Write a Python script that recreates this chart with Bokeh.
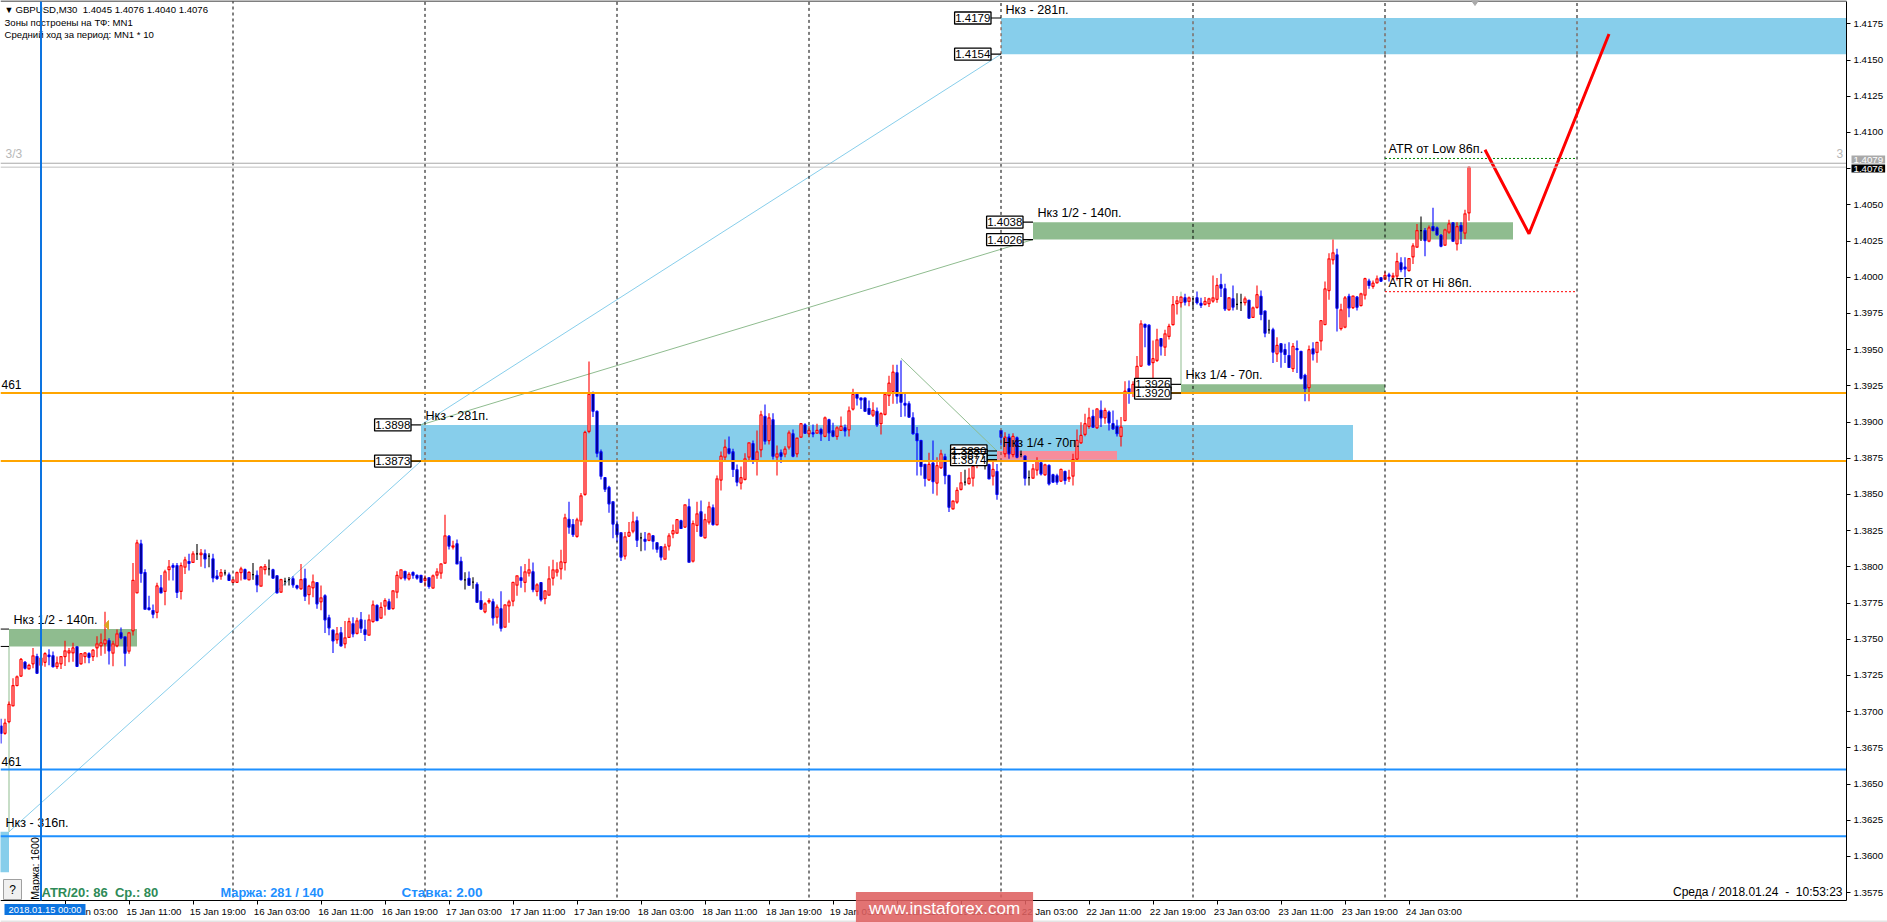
from math import pi
from bokeh.embed import file_html
from bokeh.resources import INLINE
from bokeh.plotting import figure
from bokeh.models import (ColumnDataSource, FixedTicker, Label, NumeralTickFormatter, Range1d)

# ---------------- data ----------------
OPEN = [
1.3690,1.3685,1.3693,1.3704,1.3718,1.37245,1.3734,1.37295,1.3733,1.3738,
1.3732,1.3734,1.3739,1.37385,1.3731,1.3733,1.3738,1.37405,1.37405,1.37447,
1.3733,1.3738,1.3740,1.3738,1.3744,1.37454,1.37468,1.3749,1.37403,1.37454,
1.37544,1.37516,1.37417,1.37558,1.3782,1.38158,1.3796,1.37716,1.37698,1.37686,
1.37854,1.3783,1.3798,1.38008,1.38008,1.3783,1.37997,1.38036,1.3803,1.3809,
1.38084,1.3809,1.38073,1.38054,1.37935,1.37935,1.37958,1.37944,1.37893,1.37893,
1.3796,1.3798,1.3791,1.37946,1.3794,1.37866,1.3798,1.37986,1.37979,1.37938,
1.37825,1.37899,1.37912,1.37917,1.37869,1.37848,1.37917,1.37807,1.37855,1.3789,
1.37758,1.3780,1.37648,1.37562,1.37496,1.37544,1.37468,1.37512,1.37606,1.3754,
1.37634,1.37565,1.37528,1.37622,1.37733,1.37645,1.37728,1.37758,1.37712,1.37825,
1.37922,1.37968,1.37917,1.3796,1.3794,1.3794,1.37906,1.37924,1.37853,1.37942,
1.37956,1.38025,1.3821,1.38136,1.38159,1.38037,1.3791,1.3792,1.37894,1.37878,
1.37767,1.37689,1.37758,1.37758,1.37652,1.3771,1.37583,1.3773,1.37763,1.37873,
1.37924,1.37892,1.37956,1.37965,1.3783,1.3789,1.37781,1.37804,1.37922,1.37963,
1.37986,1.38028,1.38327,1.38292,1.3821,1.38315,1.3850,1.38935,1.39195,1.39073,
1.38794,1.38615,1.38548,1.38449,1.38292,1.38235,1.38074,1.38212,1.38246,1.38318,
1.3820,1.38189,1.38182,1.38214,1.38166,1.38138,1.38053,1.38143,1.38228,1.38232,
1.38318,1.38274,1.38414,1.38039,1.38286,1.3838,1.3820,1.38308,1.38407,1.3829,
1.38599,1.38757,1.38815,1.38794,1.3867,1.38578,1.38603,1.38757,1.3885,1.38737,
1.38808,1.39038,1.38872,1.39015,1.38757,1.38787,1.38778,1.38826,1.38918,1.3878,
1.38895,1.3898,1.38918,1.38925,1.38923,1.38948,1.3890,1.39015,1.38939,1.3890,
1.38942,1.3896,1.38946,1.39089,1.3919,1.39165,1.39165,1.39093,1.39047,1.39073,
1.38988,1.39052,1.39183,1.3921,1.3934,1.39195,1.39128,1.39126,1.39029,1.38919,
1.38872,1.38707,1.3860,1.38716,1.38578,1.38684,1.3876,1.38631,1.3840,1.38447,
1.38534,1.38585,1.38575,1.38612,1.3870,1.3872,1.38698,1.38704,1.38626,1.38658,
1.38941,1.3878,1.38895,1.38774,1.38891,1.38776,1.38764,1.38615,1.38612,1.38668,
1.38718,1.38635,1.3870,1.38635,1.38628,1.38592,1.38658,1.38608,1.38626,1.38744,
1.38856,1.38914,1.38969,1.39038,1.3896,1.3908,1.39029,1.39068,1.38988,1.38969,
1.3890,1.3901,1.39229,1.3920,1.3924,1.39386,1.39674,1.39669,1.3941,1.39425,
1.39575,1.39517,1.39591,1.39672,1.39817,1.39824,1.39858,1.39833,1.3985,1.39858,
1.39819,1.39812,1.39817,1.39835,1.39847,1.39948,1.3992,1.39775,1.39851,1.39812,
1.39824,1.39824,1.3984,1.39722,1.39791,1.39867,1.39766,1.39637,1.39637,1.39471,
1.3954,1.39499,1.39459,1.39368,1.39506,1.39487,1.39322,1.39237,1.39505,1.3948,
1.3956,1.39673,1.39908,1.4012,1.40154,1.39644,1.39655,1.39867,1.3979,1.39862,
1.39804,1.39876,1.39973,1.39936,1.39961,1.39996,1.39986,1.40016,1.4000,1.40007,
1.40099,1.40069,1.40046,1.4014,1.40207,1.40322,1.40322,1.40249,1.4035,1.4034,
1.40288,1.40221,1.40311,1.40375,1.4023,1.40357,1.40304,1.40444]
HIGH = [
1.3695,1.3695,1.3707,1.3723,1.3725,1.3737,1.3735,1.3733,1.3744,1.3740,
1.3740,1.3741,1.3743,1.37415,1.3738,1.3738,1.3749,1.3744,1.37475,1.3745,
1.37405,1.37408,1.3741,1.3743,1.3752,1.3754,1.3769,1.37506,1.3749,1.37567,
1.3758,1.37516,1.3755,1.38027,1.38186,1.38186,1.37983,1.3780,1.3774,1.3789,
1.37944,1.3798,1.38047,1.38024,1.38027,1.3803,1.3807,1.3809,1.38107,1.38158,
1.38123,1.3812,1.38094,1.3809,1.37978,1.37985,1.3798,1.3796,1.3791,1.37967,
1.3800,1.37988,1.3797,1.38027,1.37974,1.38005,1.3802,1.3805,1.37986,1.3794,
1.37917,1.37924,1.37929,1.37935,1.37876,1.3802,1.37986,1.37876,1.37947,1.37894,
1.3787,1.3781,1.37668,1.37565,1.37585,1.37585,1.37625,1.37648,1.37652,1.37648,
1.37687,1.37634,1.3767,1.37767,1.3774,1.37756,1.37783,1.37779,1.37836,1.3797,
1.3798,1.37968,1.37963,1.3797,1.37947,1.3794,1.3794,1.37924,1.37947,1.3799,
1.3802,1.3836,1.38219,1.3818,1.38189,1.3807,1.37963,1.37968,1.37928,1.37894,
1.37832,1.37756,1.37783,1.37779,1.3774,1.37832,1.37737,1.37772,1.37892,1.37938,
1.38004,1.3802,1.38055,1.3803,1.37887,1.37894,1.37836,1.38004,1.38048,1.38032,
1.38117,1.38366,1.3845,1.3833,1.38338,1.3851,1.3894,1.39418,1.3921,1.3908,
1.3881,1.3862,1.3856,1.3845,1.3832,1.38237,1.3824,1.3831,1.3838,1.38348,
1.38235,1.3824,1.38235,1.3822,1.3817,1.38143,1.38159,1.38232,1.38292,1.38325,
1.38325,1.38428,1.3847,1.3832,1.3845,1.38458,1.38366,1.3845,1.3843,1.3863,
1.38796,1.3888,1.3890,1.38815,1.38707,1.38693,1.38785,1.38856,1.38872,1.38942,
1.39077,1.3912,1.3906,1.3906,1.38838,1.3881,1.38833,1.38942,1.38948,1.38889,
1.38988,1.38992,1.3897,1.38983,1.38988,1.3896,1.39038,1.39022,1.38994,1.3897,
1.39038,1.38983,1.39107,1.3923,1.3920,1.3917,1.3917,1.39149,1.39137,1.3910,
1.39068,1.39195,1.3932,1.39395,1.39395,1.39425,1.39195,1.39144,1.39068,1.38965,
1.38877,1.3871,1.38787,1.38872,1.38757,1.38808,1.3878,1.38631,1.38458,1.3855,
1.38654,1.3867,1.3868,1.38734,1.3880,1.3878,1.38734,1.38711,1.38723,1.3871,
1.38941,1.3893,1.38918,1.38923,1.3890,1.38803,1.38769,1.38665,1.3871,1.38757,
1.38728,1.38711,1.38707,1.38642,1.38642,1.38677,1.38665,1.3867,1.3878,1.38948,
1.38999,1.39057,1.39098,1.39084,1.3909,1.39149,1.39098,1.3908,1.3908,1.39015,
1.39034,1.39282,1.39287,1.39282,1.39455,1.39702,1.39678,1.39674,1.39563,1.39644,
1.39579,1.39637,1.39678,1.3987,1.3987,1.39867,1.39886,1.39867,1.39852,1.39902,
1.39858,1.39863,1.39858,1.40012,1.39994,1.40024,1.39955,1.39863,1.39943,1.3989,
1.39886,1.39867,1.39844,1.39798,1.39943,1.39909,1.3977,1.39706,1.39651,1.39586,
1.39545,1.3954,1.3955,1.39545,1.39563,1.39487,1.39333,1.39529,1.3955,1.3955,
1.3970,1.3997,1.40166,1.4026,1.40196,1.39816,1.3987,1.39885,1.39872,1.3987,
1.39892,1.39996,1.39989,1.39977,1.40012,1.4000,1.4004,1.4003,1.4003,1.40168,
1.40138,1.40138,1.40131,1.40235,1.40368,1.40419,1.4034,1.40357,1.4048,1.4035,
1.40299,1.40334,1.40396,1.4038,1.4038,1.4038,1.40465,1.4076]
LOW = [
1.3678,1.3684,1.3692,1.3704,1.3718,1.3724,1.3729,1.3729,1.3730,1.3726,
1.3729,1.3731,1.3732,1.37305,1.37295,1.37295,1.37315,1.3734,1.37345,1.3731,
1.37325,1.37334,1.37334,1.3735,1.37376,1.37385,1.3740,1.37325,1.37314,1.37445,
1.3750,1.37314,1.3740,1.37525,1.3782,1.3789,1.37707,1.3770,1.37645,1.37645,
1.3782,1.37735,1.37905,1.37905,1.37785,1.37774,1.3795,1.37974,1.3803,1.38047,
1.3800,1.3799,1.37997,1.37893,1.3791,1.3791,1.3794,1.37905,1.3789,1.3789,
1.37905,1.37916,1.3791,1.3791,1.37824,1.37866,1.37947,1.3794,1.37917,1.37818,
1.3782,1.3787,1.3787,1.37855,1.37843,1.37843,1.37763,1.3774,1.3779,1.3771,
1.3770,1.37542,1.37528,1.37404,1.37468,1.3745,1.37438,1.3751,1.37514,1.37533,
1.37542,1.37487,1.37528,1.37615,1.37625,1.37645,1.37664,1.37705,1.37705,1.37783,
1.37912,1.37906,1.37906,1.37917,1.3791,1.3789,1.37864,1.37848,1.37853,1.37917,
1.37917,1.3802,1.3812,1.3812,1.3802,1.37906,1.37843,1.3787,1.37848,1.37751,
1.37703,1.3768,1.37744,1.37595,1.37606,1.37553,1.37583,1.37613,1.37728,1.3780,
1.37855,1.37825,1.37933,1.37825,1.37797,1.3776,1.37742,1.37804,1.3787,1.37933,
1.37912,1.37975,1.38228,1.38205,1.3820,1.38285,1.3849,1.38923,1.39034,1.38757,
1.38603,1.38516,1.38373,1.38198,1.3817,1.3804,1.3805,1.38205,1.38232,1.38136,
1.38108,1.38113,1.38177,1.3812,1.38097,1.38044,1.3805,1.38113,1.38198,1.38228,
1.38263,1.38269,1.38032,1.3803,1.3824,1.3821,1.38198,1.38292,1.38286,1.3829,
1.38527,1.38723,1.38776,1.3862,1.38557,1.38534,1.38596,1.38727,1.3871,1.38631,
1.38757,1.38845,1.38845,1.38741,1.38631,1.38716,1.38757,1.3881,1.38757,1.38757,
1.38889,1.38918,1.38895,1.38895,1.38918,1.38868,1.38895,1.38868,1.38895,1.38877,
1.38942,1.3890,1.3890,1.3908,1.39114,1.3909,1.3907,1.3905,1.39034,1.38965,
1.38914,1.39045,1.3911,1.39126,1.39126,1.39034,1.39038,1.39029,1.38912,1.38631,
1.38631,1.38555,1.38592,1.38504,1.38493,1.38677,1.3857,1.38378,1.38396,1.38435,
1.38527,1.38562,1.38569,1.38555,1.3868,1.3870,1.38672,1.38608,1.38562,1.38463,
1.38838,1.38757,1.38746,1.38757,1.3875,1.38757,1.38562,1.38562,1.38608,1.3863,
1.38631,1.38631,1.38562,1.38578,1.38566,1.38585,1.38569,1.38585,1.38562,1.38741,
1.38849,1.38902,1.38953,1.38958,1.38953,1.38965,1.38988,1.38941,1.38946,1.3890,
1.38831,1.3901,1.39126,1.39172,1.39206,1.39379,1.39517,1.3939,1.3925,1.39414,
1.39459,1.39455,1.3957,1.39667,1.39743,1.3979,1.39805,1.3980,1.39782,1.39812,
1.39787,1.39805,1.39794,1.39824,1.39824,1.39863,1.39766,1.3977,1.3977,1.39775,
1.39766,1.39805,1.39713,1.3972,1.39782,1.39702,1.39586,1.39609,1.39407,1.39414,
1.39375,1.39407,1.39375,1.39345,1.39338,1.39294,1.39144,1.39144,1.39425,1.3941,
1.39494,1.3967,1.39844,1.40088,1.39625,1.39632,1.39648,1.39724,1.3978,1.3977,
1.3980,1.39846,1.3992,1.3992,1.39959,1.39966,1.39982,1.3997,1.39977,1.39977,
1.40035,1.4000,1.4004,1.40092,1.40203,1.4025,1.40145,1.40242,1.40322,1.40288,
1.40207,1.40216,1.4030,1.40244,1.40184,1.4023,1.40263,1.4039]
CLOSE = [
1.3685,1.3692,1.3705,1.3718,1.3724,1.3736,1.3730,1.3732,1.37385,1.37265,
1.3737,1.3740,1.3738,1.3731,1.37336,1.3738,1.3742,1.3742,1.3744,1.37313,
1.3740,1.37405,1.37375,1.37424,1.37468,1.37474,1.37495,1.3742,1.37468,1.37537,
1.3751,1.37403,1.37544,1.37907,1.38165,1.37955,1.37707,1.37705,1.37673,1.37868,
1.3782,1.37965,1.3800,1.37997,1.37824,1.38008,1.38047,1.38024,1.3809,1.3809,
1.38094,1.38054,1.38073,1.37923,1.37919,1.3796,1.37958,1.37907,1.3791,1.3796,
1.37985,1.37916,1.37962,1.37946,1.37875,1.37998,1.38002,1.37986,1.37922,1.3782,
1.37912,1.37899,1.37912,1.37876,1.37855,1.37912,1.37797,1.37866,1.37896,1.37744,
1.37786,1.37634,1.37579,1.37489,1.37537,1.37454,1.3751,1.37622,1.37537,1.37627,
1.37576,1.37533,1.37634,1.37737,1.37629,1.37719,1.37767,1.37708,1.37834,1.3794,
1.37979,1.37922,1.37947,1.37942,1.37922,1.37894,1.3792,1.37864,1.37938,1.37965,
1.3802,1.38214,1.38143,1.38145,1.3802,1.37912,1.3791,1.37873,1.37894,1.37756,
1.37708,1.37744,1.37767,1.37648,1.37721,1.37576,1.37737,1.37758,1.37892,1.37938,
1.37906,1.37965,1.37979,1.37843,1.37876,1.37774,1.37834,1.37917,1.37979,1.37979,
1.38034,1.38338,1.38274,1.38223,1.38324,1.3849,1.38928,1.3919,1.39075,1.38785,
1.38626,1.38536,1.38435,1.38295,1.38223,1.38067,1.38207,1.38237,1.3831,1.38184,
1.3820,1.38177,1.38228,1.38177,1.38122,1.38067,1.38138,1.38214,1.38249,1.38325,
1.38265,1.38428,1.38032,1.38299,1.38366,1.38212,1.38325,1.38414,1.38292,1.38608,
1.38764,1.38826,1.38785,1.38672,1.38585,1.38615,1.38746,1.38856,1.38741,1.38794,
1.3905,1.38868,1.39029,1.38764,1.3878,1.38764,1.38813,1.38925,1.38764,1.38889,
1.38988,1.38923,1.38942,1.38918,1.38942,1.38918,1.39029,1.38925,1.38902,1.3896,
1.38969,1.38939,1.39077,1.3919,1.39165,1.39153,1.39075,1.39054,1.3908,1.3898,
1.39057,1.3919,1.39268,1.39344,1.39179,1.39137,1.39117,1.39034,1.38919,1.38872,
1.38693,1.3861,1.38707,1.38589,1.38698,1.3878,1.3863,1.38412,1.38454,1.38527,
1.3858,1.38585,1.38612,1.38693,1.3875,1.3875,1.38698,1.38608,1.38672,1.3850,
1.38895,1.38895,1.3878,1.3890,1.38757,1.38776,1.38612,1.38615,1.38677,1.38728,
1.38642,1.38704,1.38573,1.38585,1.38585,1.38672,1.38596,1.38617,1.38741,1.38873,
1.38907,1.38988,1.39029,1.38965,1.3909,1.39029,1.3908,1.38994,1.38953,1.38919,
1.38965,1.39213,1.39206,1.39259,1.39384,1.39678,1.39655,1.39395,1.39437,1.39568,
1.39524,1.39609,1.3966,1.3981,1.39837,1.39863,1.39828,1.39858,1.3985,1.39824,
1.39807,1.39833,1.39851,1.39858,1.39943,1.39925,1.39782,1.39858,1.39794,1.39812,
1.39824,1.39851,1.39718,1.39789,1.39879,1.39743,1.39614,1.39637,1.39483,1.39529,
1.39483,1.39467,1.39377,1.39522,1.39499,1.39303,1.3923,1.39499,1.3947,1.3955,
1.3970,1.39919,1.40127,1.40168,1.39786,1.39775,1.39857,1.39788,1.3987,1.39793,
1.39885,1.3999,1.39943,1.39959,1.39989,1.39973,1.40012,1.40007,1.4001,1.40108,
1.40053,1.40058,1.40129,1.40216,1.40322,1.40322,1.40253,1.4034,1.40322,1.40293,
1.40214,1.40327,1.40368,1.40249,1.4035,1.40318,1.40438,1.4076]

PRICE_TICKS = [1.3575,1.36,1.3625,1.365,1.3675,1.37,1.3725,1.375,1.3775,1.38,1.3825,1.385,1.3875,
               1.39,1.3925,1.395,1.3975,1.40,1.4025,1.405,1.4075,1.41,1.4125,1.415,1.4175]
TIME_BARS = [16,32,48,64,80,96,112,128,144,160,176,192,208,224,240,256,272,288,304,320,336,352]
TIME_TEXT = ["15 Jan 03:00","15 Jan 11:00","15 Jan 19:00","16 Jan 03:00","16 Jan 11:00","16 Jan 19:00",
             "17 Jan 03:00","17 Jan 11:00","17 Jan 19:00","18 Jan 03:00","18 Jan 11:00","18 Jan 19:00",
             "19 Jan 03:00","19 Jan 11:00","19 Jan 19:00","22 Jan 03:00","22 Jan 11:00","22 Jan 19:00",
             "23 Jan 03:00","23 Jan 11:00","23 Jan 19:00","24 Jan 03:00"]
DAY_BARS = [58,106,154,202,250,298,346,394]
CURSOR_BAR = 10

ZONE_BLUE_START = [-1,105,250]
ZONE_BLUE_END = [2,338,461.375]
ZONE_BLUE_TOP = [1.3617,1.3898,1.4179]
ZONE_BLUE_BOTTOM = [1.3589,1.3873,1.4154]
ZONE_GREEN_START = [2,295,258]
ZONE_GREEN_END = [34,346,378]
ZONE_GREEN_TOP = [1.3757,1.3926,1.4038]
ZONE_GREEN_BOTTOM = [1.3745,1.3920,1.4026]
ZONE_PINK_START = [249]
ZONE_PINK_END = [279]
ZONE_PINK_TOP = [1.3880]
ZONE_PINK_BOTTOM = [1.3874]

ORANGE_LEVELS = [1.3920,1.3873]
BLUE_LEVELS = [1.3660,1.3614]

BOX_ANCHOR = [105,105,250,250,258,258,295,295,249,249,249]
BOX_PRICE = [1.3898,1.3873,1.4179,1.4154,1.4038,1.4026,1.3926,1.3920,1.3880,1.3877,1.3874]

FORECAST_BARS = [371,382,402]
FORECAST_PRICE = [1.4088,1.4030,1.4168]
ATR_BARS = [346,394]
ATR_LOW = 1.4082
ATR_HI = 1.3990
SKY_LINES = [([2,105],[1.3617,1.3873]),([105,250],[1.3898,1.4154])]
SAGE_LINES = [([105,258],[1.3898,1.4026]),([225,249],[1.3944,1.3880]),
              ([2,2],[1.3745,1.3617]),([295,295],[1.3926,1.3990])]

# ---------------- pixel helpers for annotations ----------------
W, H = 1887, 922
FRAME_W, FRAME_T, FRAME_B = 1846, 1, 900
def X(px): return (px - 0.5) / 4
def Y(py): return 1.4175 + (23.3 - py) / 14480

SANS = "Liberation Sans"
NB = "\u00a0"

p = figure(width=W, height=H, output_backend="svg", toolbar_location=None,
           x_range=Range1d(X(0), X(W)), y_range=Range1d(Y(H), Y(0)),
           y_axis_location="right", min_border=0, outline_line_color=None, margin=(0, 0, 0, 0))
p.grid.visible = False

ya = p.yaxis[0]
ya.fixed_location = X(FRAME_W)
ya.bounds = (Y(FRAME_B), Y(FRAME_T))
ya.ticker = FixedTicker(ticks=PRICE_TICKS)
ya.formatter = NumeralTickFormatter(format="0.0000")
ya.major_tick_in = 0; ya.major_tick_out = 4
ya.minor_tick_line_color = None
ya.major_label_text_font = SANS; ya.major_label_text_font_size = "9.7px"
ya.major_label_standoff = 3
ya.axis_line_color = "black"; ya.major_label_text_color = "black"

xa = p.xaxis[0]
xa.fixed_location = Y(FRAME_B)
xa.bounds = (X(0), X(FRAME_W))
centers = [b + 6.2 for b in TIME_BARS]
xa.ticker = FixedTicker(ticks=centers, minor_ticks=TIME_BARS)
xa.major_label_overrides = {c: t for c, t in zip(centers, TIME_TEXT)}
xa.major_tick_line_color = None; xa.major_tick_in = 0; xa.major_tick_out = 0
xa.minor_tick_line_color = "black"; xa.minor_tick_in = 0; xa.minor_tick_out = 4
xa.major_label_text_font = SANS; xa.major_label_text_font_size = "9.7px"
xa.major_label_standoff = 1
xa.axis_line_color = "black"; xa.major_label_text_color = "black"

# bottom window edge
p.quad(left=[X(0)], right=[X(W)], top=[Y(920)], bottom=[Y(H)], fill_color="#E4E4E4", line_color=None)

# zones
p.quad(left=ZONE_BLUE_START, right=ZONE_BLUE_END, top=ZONE_BLUE_TOP, bottom=ZONE_BLUE_BOTTOM,
       fill_color="#87CEEB", line_color=None)
p.quad(left=ZONE_GREEN_START, right=ZONE_GREEN_END, top=ZONE_GREEN_TOP, bottom=ZONE_GREEN_BOTTOM,
       fill_color="#8FBC8F", line_color=None)
p.quad(left=ZONE_PINK_START, right=ZONE_PINK_END, top=ZONE_PINK_TOP, bottom=ZONE_PINK_BOTTOM,
       fill_color="#F78D9C", line_color=None)

# thin lines
for xs, ys in SKY_LINES:
    p.line(xs, ys, line_color="#87CEEB", line_width=1)
for xs, ys in SAGE_LINES:
    p.line(xs, ys, line_color="#8FBC8F", line_width=1)

# candles
bars = list(range(len(OPEN)))
wick_col = ["red" if c > o else "blue" if c < o else "black" for o, c in zip(OPEN, CLOSE)]
fill_col = ["white" if c > o else "black" for o, c in zip(OPEN, CLOSE)]
src = ColumnDataSource(dict(x=bars, o=OPEN, h=HIGH, l=LOW, c=CLOSE, wick=wick_col, fill=fill_col,
                            top=[max(a, b) for a, b in zip(OPEN, CLOSE)],
                            bot=[min(a, b) for a, b in zip(OPEN, CLOSE)]))
p.segment(x0="x", x1="x", y0="l", y1="h", line_color="wick", line_width=1.1, source=src)
p.vbar(x="x", width=0.5, top="top", bottom="bot", fill_color="fill", line_color="wick", line_width=1.25, source=src)

# day separators, brownish where they cross a blue zone
for b in DAY_BARS:
    cuts = [(bo, to) for s, e, to, bo in zip(ZONE_BLUE_START, ZONE_BLUE_END, ZONE_BLUE_TOP, ZONE_BLUE_BOTTOM) if s <= b < e]
    cur = Y(FRAME_B - 3)
    for bo, to in sorted(cuts):
        p.segment(b, cur, b, bo, line_color="black", line_width=1, line_dash="3 3")
        p.segment(b, bo, b, to, line_color="#7A3A20", line_width=1, line_dash="3 3")
        cur = to
    p.segment(b, cur, b, Y(FRAME_T), line_color="black", line_width=1, line_dash="3 3")

# ATR dashed levels
p.line(ATR_BARS, [ATR_LOW, ATR_LOW], line_color="#008000", line_width=1, line_dash="2 2")
p.line(ATR_BARS, [ATR_HI, ATR_HI], line_color="#FF0000", line_width=1, line_dash="2 2")

# forecast
p.line(FORECAST_BARS, FORECAST_PRICE, line_color="#FF0000", line_width=3)

# horizontal levels, stopping at the price scale
def hline(v, color, width):
    p.segment(X(0), v, X(FRAME_W), v, line_color=color, line_width=width)
for v in BLUE_LEVELS:
    hline(v, "#1E90FF", 2)
hline(1.40787, "#A9A9A9", 1)
hline(1.4076, "#C0C0C0", 1)
for v in ORANGE_LEVELS:
    hline(v, "#FFA500", 2)
hline(Y(0.5), "black", 1)

# price boxes
HALF = 6 / 14480
p.segment([a - 2.5 for a in BOX_ANCHOR], BOX_PRICE, BOX_ANCHOR, BOX_PRICE, line_color="black", line_width=1.2)
p.segment([X(0), X(0)], [1.3757, 1.3745], [2, 2], [1.3757, 1.3745], line_color="black", line_width=1)
p.quad(left=[a - 11.6 for a in BOX_ANCHOR], right=[a - 2.5 for a in BOX_ANCHOR],
       top=[v + HALF for v in BOX_PRICE], bottom=[v - HALF for v in BOX_PRICE],
       fill_color="white", line_color="black", line_width=1.3)

# small markers
p.patch([X(1471), X(1478), X(1474.5)], [Y(0), Y(0), Y(5)], color="#A9A9A9")
p.patch([X(108), X(104), X(108)], [Y(620), Y(624.7), Y(629)], color="#DAA520")

# question mark button
p.quad(left=[X(3)], right=[X(21)], top=[Y(879)], bottom=[Y(899)], fill_color="#F0F0F0", line_color="#A0A0A0")

def txt(px, py, s, size=12.6, color="black", font=SANS, style="normal", align="left", **kw):
    p.add_layout(Label(x=X(px), y=Y(py), text=s, text_font_size=f"{size}px", text_color=color,
                       text_font=font, text_font_style=style, text_align=align,
                       text_baseline="middle", **kw))

# header
txt(4, 9, "▼", size=9)
txt(15, 9, f"GBPUSD,M30{NB}{NB}1.4045 1.4076 1.4040 1.4076", size=9.6)
txt(4, 22, "Зоны построены на ТФ: MN1", size=9.6)
txt(4, 34, "Средний ход за период: MN1 * 10", size=9.6)
txt(5, 153, "3/3", size=12, color="#B8B8B8")
txt(1836, 153, "3", size=12, color="#B8B8B8")
txt(1, 384, "461", size=12)
txt(1, 761, "461", size=12)

# zone names
txt(1005, 9, "Нкз - 281п.")
txt(425, 415, "Нкз - 281п.")
txt(13, 619, "Нкз 1/2 - 140п.")
txt(1037, 212, "Нкз 1/2 - 140п.")
txt(1185, 374, "Нкз 1/4 - 70п.")
txt(1002, 442, "Нкз 1/4 - 70п.")
txt(5, 822, "Нкз - 316п.")
txt(1388, 148, "ATR от Low 86п.")
txt(1388, 282, "ATR от Hi 86п.")

# price box texts
for a, v in zip(BOX_ANCHOR, BOX_PRICE):
    p.add_layout(Label(x=a - 7.05, y=v, text=f"{v:.4f}", text_font=SANS, text_font_size="11.5px",
                       text_align="center", text_baseline="middle", text_color="black"))

# footer texts
txt(41, 892, f"ATR/20: 86{NB}{NB}Ср.: 80", size=13, color="#2E8B57", style="bold")
txt(220, 892, "Маржа: 281 / 140", size=12.8, color="#1E90FF", style="bold")
txt(401, 892, "Ставка: 2.00", size=13.5, color="#1E90FF", style="bold")
txt(34, 868, "Маржа: 1600", size=10.5, align="center", angle=pi / 2)
txt(12, 889, "?", size=12, align="center")
txt(1842, 891, f"Среда / 2018.01.24{NB}{NB}-{NB}{NB}10:53:23", size=12, align="right")

# right-hand tags and date tag
txt(1851, 159, "1.4079", size=9.7, color="white", background_fill_color="#A9A9A9", padding=(2, 1))
txt(1851, 168, "1.4076", size=9.7, color="white", background_fill_color="black", padding=(2, 1))
txt(4, 909, "2018.01.15 00:00", size=9.4, color="white", background_fill_color="#0D74E0", padding=(4, 0))

# watermark
txt(944, 908, "www.instaforex.com", size=17, color="white", align="center",
    background_fill_color="#DE6060", background_fill_alpha=0.88, padding=(13, 7))

# blue cursor line above everything
p.segment(CURSOR_BAR, Y(FRAME_T), CURSOR_BAR, Y(FRAME_B), line_color="#0D74E0", line_width=2, level="overlay")

open("out.html", "w").write(file_html(p, INLINE))
